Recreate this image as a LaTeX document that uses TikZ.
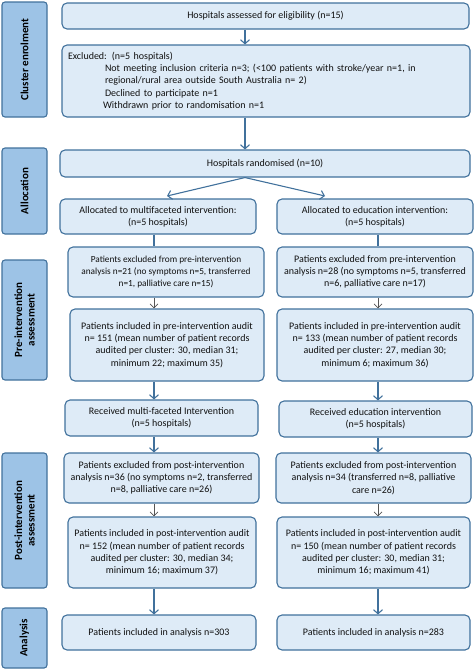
\documentclass[tikz,border=0pt]{standalone}
\usepackage{fontspec}
\setmainfont{Carlito}
\usetikzlibrary{arrows.meta}
\definecolor{boxc}{HTML}{DEEBF7}
\definecolor{sidec}{HTML}{9DC3E6}
\definecolor{bordc}{HTML}{41719C}
\definecolor{txtc}{HTML}{111111}
\definecolor{thinc}{HTML}{555555}
\newcommand\fs{\fontsize{10}{12.3}\selectfont}
\newcommand\fsm{\fontsize{9.3}{12.3}\selectfont}
\newcommand\sfs{\fontsize{11}{12.5}\selectfont\bfseries}
\tikzset{
  box/.style={draw=bordc, fill=boxc, rounded corners=5pt, line width=1.1pt,
    align=center, inner sep=0pt, font=\fs, text=txtc},
  side/.style={draw=bordc, fill=sidec, rounded corners=3pt, line width=1.1pt,
    align=center, inner sep=0pt, font=\sfs, rotate=90, minimum height=45pt},
  arr/.style={draw=bordc, line width=1.1pt, -{Straight Barb[length=4pt,width=9pt,line width=1.1pt]}},
  plainln/.style={draw=bordc, line width=1.1pt},
  thinarr/.style={draw=thinc, line width=0.7pt, -{Straight Barb[length=4pt,width=8pt,line width=0.7pt]}}
}
\begin{document}
\begin{tikzpicture}[x=1pt,y=-1pt]
\useasboundingbox (0,0) rectangle (474,670);
% side labels
\node[side, minimum width=115pt] (s1) at (24.5,59.5) {Cluster enrolment};
\node[side, minimum width=86pt] (s2) at (24.5,191) {Allocation};
\node[side, minimum width=120pt] (s3) at (24.5,320) {Pre-intervention\\assessment};
\node[side, minimum width=135pt] (s4) at (24.5,520.5) {Post-intervention\\assessment};
\node[side, minimum width=60pt] (s5) at (24.5,638) {Analysis};
% boxes
\node[box, minimum width=407pt, minimum height=26pt] (elig) at (265.5,16) {Hospitals assessed for eligibility (n=15)};
\node[box, minimum width=408pt, minimum height=72pt, align=left, text width=396pt] (excl) at (266,81) {Excluded: (n=5 hospitals)\\
\hspace*{37pt}Not meeting inclusion criteria n=3; (<100 patients with stroke/year n=1, in\\
\hspace*{37pt}regional/rural area outside South Australia n= 2)\\
\hspace*{37pt}Declined to participate n=1\\
\hspace*{35pt}Withdrawn prior to randomisation n=1};
\node[box, minimum width=410pt, minimum height=27pt] (rand) at (265,163.5) {Hospitals randomised (n=10)};
\node[box, minimum width=196pt, minimum height=35pt] (allocL) at (158,216.5) {Allocated to multifaceted intervention:\\(n=5 hospitals)};
\node[box, minimum width=196pt, minimum height=35pt] (allocR) at (375,216.5) {Allocated to education intervention:\\(n=5 hospitals)};
\node[box, minimum width=196pt, minimum height=50pt, font=\fsm] (preexL) at (166,272) {Patients excluded from pre-intervention\\analysis n=21 (no symptoms n=5, transferred\\n=1, palliative care n=15)};
\node[box, minimum width=196pt, minimum height=50pt] (preexR) at (375,272) {Patients excluded from pre-intervention\\analysis n=28 (no symptoms n=5, transferred\\n=6, palliative care n=17)};
\node[box, minimum width=194pt, minimum height=72pt] (preinL) at (167,345) {Patients included in pre-intervention audit\\n= 151 (mean number of patient records\\audited per cluster: 30, median 31;\\minimum 22; maximum 35)};
\node[box, minimum width=196pt, minimum height=72pt] (preinR) at (375,345) {Patients included in pre-intervention audit\\n= 133 (mean number of patient records\\audited per cluster: 27, median 30;\\minimum 6; maximum 36)};
\node[box, minimum width=193pt, minimum height=36pt] (recL) at (161.5,418) {Received multi-faceted Intervention\\(n=5 hospitals)};
\node[box, minimum width=193pt, minimum height=36pt] (recR) at (375.5,419) {Received education intervention\\(n=5 hospitals)};
\node[box, minimum width=195pt, minimum height=50pt] (postexL) at (161.5,478) {Patients excluded from post-intervention\\analysis n=36 (no symptoms n=2, transferred\\n=8, palliative care n=26)};
\node[box, minimum width=195pt, minimum height=50pt] (postexR) at (373.5,478) {Patients excluded from post-intervention\\analysis n=34 (transferred n=8, palliative\\care n=26)};
\node[box, minimum width=188pt, minimum height=71pt] (postinL) at (162,552.5) {Patients included in post-intervention audit\\n= 152 (mean number of patient records\\audited per cluster: 30, median 34;\\minimum 16; maximum 37)};
\node[box, minimum width=193pt, minimum height=71pt] (postinR) at (373.5,552.5) {Patients included in post-intervention audit\\n= 150 (mean number of patient records\\audited per cluster: 30, median 31;\\minimum 16; maximum 41)};
\node[box, minimum width=194pt, minimum height=35pt] (anL) at (159,632.5) {Patients included in analysis n=303};
\node[box, minimum width=193pt, minimum height=35pt] (anR) at (373.5,632.5) {Patients included in analysis n=283};
% connector guide coordinates
\coordinate (cx) at (245,0);
\coordinate (lx) at (154,0);
\coordinate (rx) at (378,0);
\coordinate (tipL) at (167,196);
\coordinate (tipR) at (325,196);
% connectors
\draw[arr] (elig.south -| cx) -- (excl.north -| cx);
\draw[arr] (excl.south -| cx) -- (rand.north -| cx);
\draw[arr] (rand.south -| cx) -- (tipL);
\draw[arr] (rand.south -| cx) -- (tipR);
\draw[plainln] (allocL.south -| lx) -- (preexL.north -| lx);
\draw[plainln] (allocR.south -| rx) -- (preexR.north -| rx);
\draw[thinarr] (preexL.south -| lx) -- (preinL.north -| lx);
\draw[thinarr] (preexR.south -| rx) -- (preinR.north -| rx);
\draw[arr] (preinL.south -| lx) -- (recL.north -| lx);
\draw[arr] (preinR.south -| rx) -- (recR.north -| rx);
\draw[arr] (recL.south -| lx) -- (postexL.north -| lx);
\draw[arr] (recR.south -| rx) -- (postexR.north -| rx);
\draw[thinarr] (postexL.south -| lx) -- (postinL.north -| lx);
\draw[thinarr] (postexR.south -| rx) -- (postinR.north -| rx);
\draw[arr] (postinL.south -| lx) -- (anL.north -| lx);
\draw[arr] (postinR.south -| rx) -- (anR.north -| rx);
\end{tikzpicture}
\end{document}
